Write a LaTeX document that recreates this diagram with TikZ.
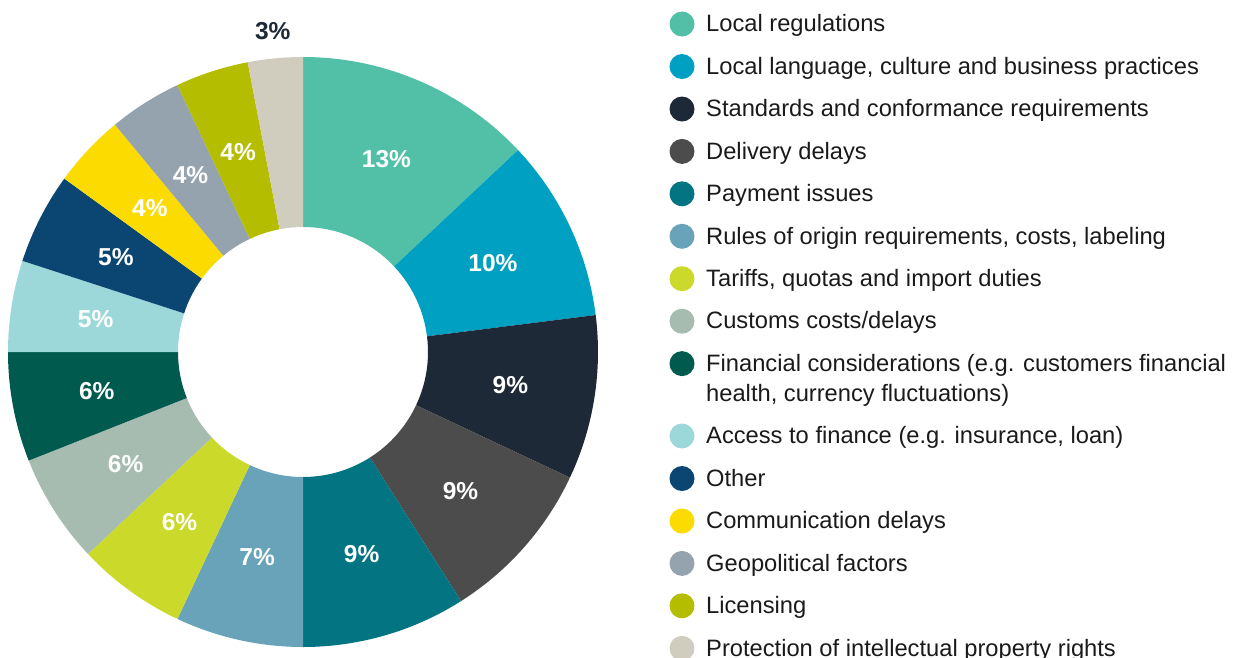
\documentclass[tikz,border=0pt]{standalone}
\usepackage{fontspec}
\setmainfont{Liberation Sans}
\definecolor{cRegs}{HTML}{52C0A6}
\definecolor{cLang}{HTML}{00A0C2}
\definecolor{cStd}{HTML}{1D2936}
\definecolor{cDel}{HTML}{4C4C4C}
\definecolor{cPay}{HTML}{027482}
\definecolor{cOrig}{HTML}{68A3BA}
\definecolor{cTar}{HTML}{CBDA2A}
\definecolor{cCust}{HTML}{A6BCB1}
\definecolor{cFin}{HTML}{005A4E}
\definecolor{cAcc}{HTML}{9CD8DA}
\definecolor{cOth}{HTML}{0B4673}
\definecolor{cComm}{HTML}{FCDB00}
\definecolor{cGeo}{HTML}{95A3AF}
\definecolor{cLic}{HTML}{B5BD00}
\definecolor{cProt}{HTML}{D0CCBE}
\definecolor{cText}{HTML}{1A1A1A}
\tikzset{
  pct/.style={font=\fontsize{24.5}{28}\selectfont\bfseries, inner sep=0pt},
  dot/.style={circle, inner sep=0pt, minimum size=25pt},
  item/.style={anchor=base west, inner sep=0pt, text=cText,
    font=\fontsize{23.7}{30}\selectfont}
}
\begin{document}
\begin{tikzpicture}[x=1pt,y=1pt]
    \useasboundingbox (0,0) rectangle (1237,-657);
    % donut
    \begin{scope}[shift={(303,-352)}]
        \foreach \s/\p/\col/\r/\tc [count=\i] in {0/13/cRegs/210/white,
            13/10/cLang/210/white, 23/9/cStd/210/white, 32/9/cDel/210/white,
            41/9/cPay/210/white, 50/7/cOrig/210/white, 57/6/cTar/210/white,
            63/6/cCust/210/white, 69/6/cFin/210/white, 75/5/cAcc/210/white,
            80/5/cOth/210/white, 85/4/cComm/210/white, 89/4/cGeo/210/white,
            93/4/cLic/210/white, 97/3/cProt/322/cStd}{
            \pgfmathsetmacro{\a}{90-3.6*\s}
            \pgfmathsetmacro{\b}{90-3.6*(\s+\p)}
            \pgfmathsetmacro{\m}{(\a+\b)/2}
            \fill[\col] (\a:125) -- (\a:295) arc[start angle=\a, end angle=\b, radius=295]
                -- (\b:125) arc[start angle=\b, end angle=\a, radius=125] -- cycle;
            \node[pct, text=\tc] (lab\i) at (\m:\r) {\p\%};
        }
    \end{scope}
    % legend
    \foreach \yy/\col/\txt [count=\i] in {24/cRegs/Local regulations,
        66.5/cLang/{Local language, culture and business practices},
        109/cStd/Standards and conformance requirements,
        151.4/cDel/Delivery delays,
        193.8/cPay/Payment issues,
        236.3/cOrig/{Rules of origin requirements, costs, labeling},
        278.7/cTar/{Tariffs, quotas and import duties},
        321.2/cCust/{Customs costs/delays},
        363.6/cFin/{\begin{tabular}[t]{@{}l@{}}Financial considerations (e.g. customers financial\\health, currency fluctuations)\end{tabular}},
        436/cAcc/{Access to finance (e.g. insurance, loan)},
        478.5/cOth/Other,
        521/cComm/Communication delays,
        563.4/cGeo/Geopolitical factors,
        605.8/cLic/Licensing,
        648.3/cProt/Protection of intellectual property rights}{
        \node[dot, fill=\col] (dot\i) at (682,-\yy) {};
        \node[item] (item\i) at (706,-\yy-7.7) {\txt};
    }
\end{tikzpicture}
\end{document}
